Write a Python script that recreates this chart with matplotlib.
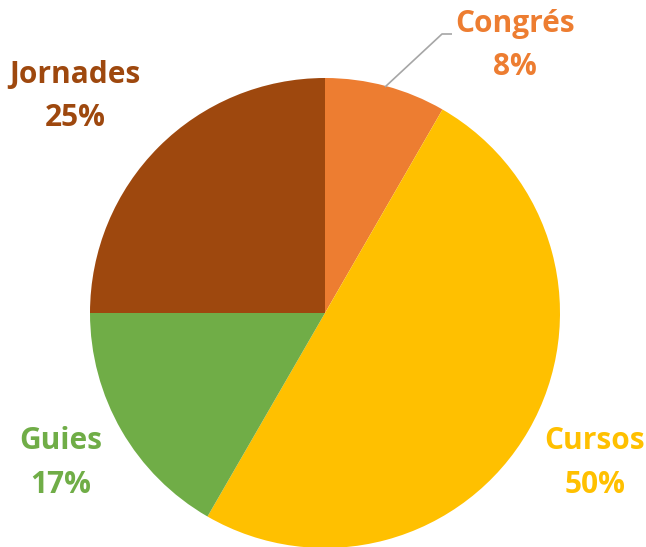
import matplotlib
matplotlib.use("Agg")
import matplotlib.pyplot as plt

labels = ["Congrés", "Cursos", "Guies", "Jornades"]
values = [1, 6, 2, 3]
pcts = ["8%", "50%", "17%", "25%"]
colors = ["#ED7D31", "#FFC000", "#70AD47", "#9E480E"]

W, H = 646, 547
fig = plt.figure(figsize=(W / 100, H / 100), dpi=100)
ax = fig.add_axes([0, 0, 1, 1])

cx, cy, r = 325, H - 313, 235
ax.pie(values, colors=colors, startangle=90, counterclock=False,
       center=(cx, cy), radius=r, frame=True,
       wedgeprops=dict(linewidth=0))
ax.set_xlim(0, W)
ax.set_ylim(0, H)
ax.set_aspect("equal")
ax.axis("off")

# label positions (pixel coords from top-left)
pos = {"Congrés": (515, 24, 67), "Cursos": (595, 441, 485),
       "Guies": (61, 441, 485), "Jornades": (75, 75, 118)}
for lab, p, c in zip(labels, pcts, colors):
    x, y1, y2 = pos[lab]
    ax.text(x, H - y1, lab, color=c, ha="center", va="center",
            fontsize=21.5, fontweight="bold", family="Open Sans")
    ax.text(x, H - y2, p, color=c, ha="center", va="center",
            fontsize=21.5, fontweight="bold", family="Open Sans")

# leader line for Congrés
ax.plot([452, 442, 385], [H - 34, H - 34, H - 87], color="#A6A6A6", lw=1.2,
        solid_capstyle="butt")

fig.savefig("out.png", dpi=100)
